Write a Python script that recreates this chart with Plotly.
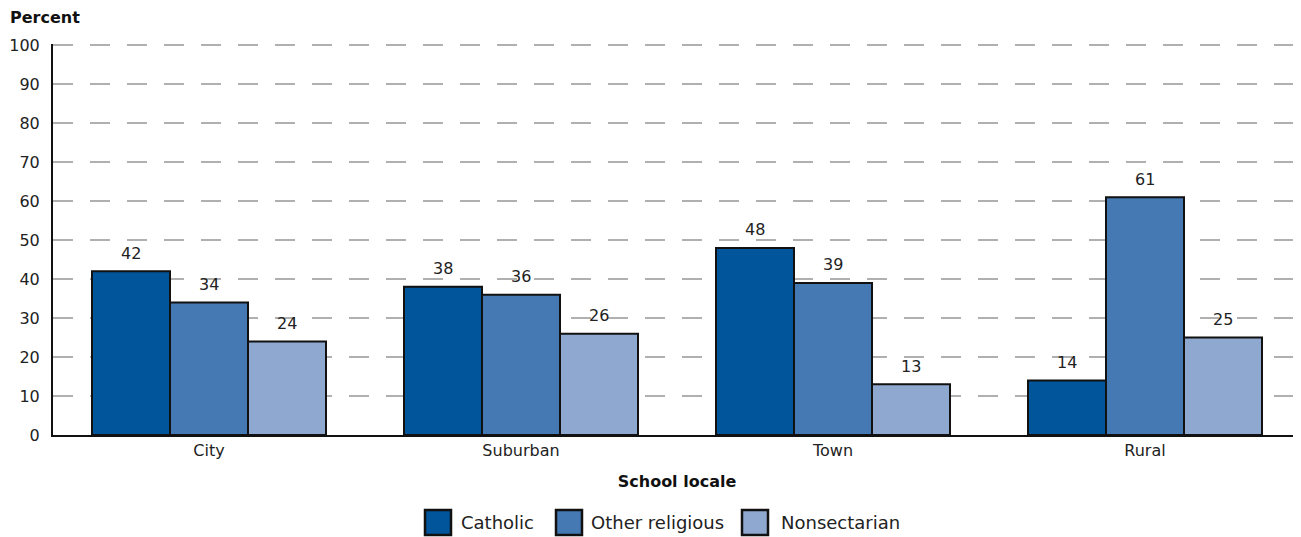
import plotly.graph_objects as go

categories = ["City", "Suburban", "Town", "Rural"]
catholic = [42, 38, 48, 14]
other_religious = [34, 36, 39, 61]
nonsectarian = [24, 26, 13, 25]
series_names = ["Catholic", "Other religious", "Nonsectarian"]
colors = ["#01559b", "#4579b3", "#8fa8cf"]
y_ticks = list(range(0, 101, 10))

FONT = "'DejaVu Sans', sans-serif"
OFF = 8  # page body margin offset
W, H = 1301, 537
ML, MR, MT, MB = 53 - OFF, OFF, 44 - OFF, 537 - 435 + OFF
PW, PH = W - ML - MR, H - MT - MB
BARGAP = 0.25
N_SERIES = 3

fig = go.Figure()
for name, vals, col in zip(series_names, [catholic, other_religious, nonsectarian], colors):
    fig.add_trace(go.Bar(
        x=categories, y=vals, name=name, showlegend=False,
        marker=dict(color=col, line=dict(color="#111111", width=2)),
    ))

fig.update_layout(
    barmode="group", bargap=BARGAP, bargroupgap=0,
    width=W, height=H,
    margin=dict(l=ML, r=MR, t=MT, b=MB, autoexpand=False),
    plot_bgcolor="white", paper_bgcolor="white",
    font=dict(family=FONT, size=16, color="#222222"),
    showlegend=False,
    xaxis=dict(showline=True, linecolor="#111111", linewidth=2, ticks="",
               tickfont=dict(size=16), automargin=False,
               title=dict(text="<b>School locale</b>", font=dict(size=16, color="#111111"), standoff=17)),
    yaxis=dict(range=[0, 100.3], tickvals=y_ticks, showline=True, linecolor="#111111",
               linewidth=2, showgrid=True, gridcolor="#b0b0b0", gridwidth=2,
               griddash="20px,17px", zeroline=False, ticks="", ticklabelstandoff=8,
               tickfont=dict(size=16), automargin=False),
)

# value labels above each bar (offset derived from the group layout)
bar_px = PW / len(categories) * (1 - BARGAP) / N_SERIES
for i, vals in enumerate([catholic, other_religious, nonsectarian]):
    shift = (i - (N_SERIES - 1) / 2) * bar_px
    for cat, v in zip(categories, vals):
        fig.add_annotation(x=cat, y=v, text=str(v), showarrow=False,
                           xshift=shift, yshift=18, yanchor="middle",
                           font=dict(size=16, color="#222222"))

def px_x(px):
    return (px - OFF - ML) / PW

def px_y(py):
    return (H - MB - (py - OFF)) / PH

fig.add_annotation(text="<b>Percent</b>", xref="paper", yref="paper", x=px_x(8), y=px_y(17),
                   xanchor="left", yanchor="middle", showarrow=False,
                   font=dict(size=16, color="#111111"))

# manual legend with large square swatches
legend_sq_left = [425, 556, 742]
legend_txt_left = [459, 589, 779]
for name, col, sx, tx in zip(series_names, colors, legend_sq_left, legend_txt_left):
    fig.add_shape(type="rect", xref="paper", yref="paper",
                  x0=px_x(sx), x1=px_x(sx + 26), y0=px_y(535), y1=px_y(510),
                  fillcolor=col, line=dict(color="#111111", width=2.5))
    fig.add_annotation(text=name, xref="paper", yref="paper", x=px_x(tx), y=px_y(522),
                       xanchor="left", yanchor="middle", showarrow=False,
                       font=dict(size=18, color="#222222"))

fig.write_html("out.html")
